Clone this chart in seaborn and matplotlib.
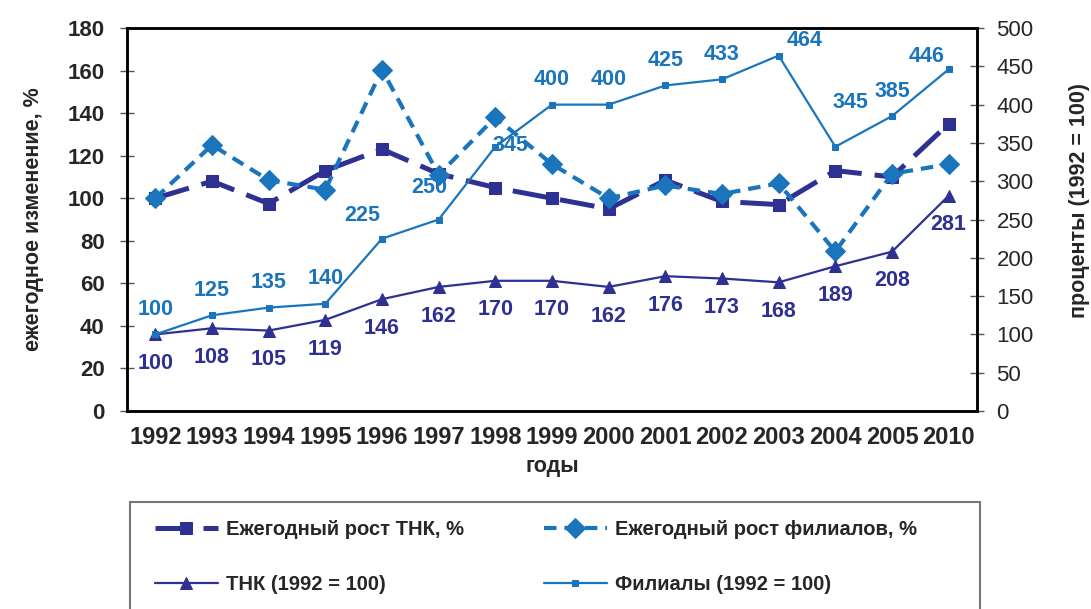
import numpy as np
import matplotlib
matplotlib.use("Agg")
import matplotlib.pyplot as plt
from matplotlib.patches import Rectangle
import seaborn as sns

years = ['1992', '1993', '1994', '1995', '1996', '1997', '1998', '1999',
         '2000', '2001', '2002', '2003', '2004', '2005', '2010']

# ежегодный рост, % (левая ось)
rost_tnk = [100, 108, 97.5, 113, 123, 111.5, 105, 100, 95, 108.5, 98.5, 97, 113, 110, 135]
rost_fil = [100, 125, 108.5, 104, 160.5, 111, 138, 116, 100, 106, 102, 107, 75, 111.5, 116]

# индексы, 1992 = 100 (правая ось)
tnk_idx = [100, 108, 105, 119, 146, 162, 170, 170, 162, 176, 173, 168, 189, 208, 281]
fil_idx = [100, 125, 135, 140, 225, 250, 345, 400, 400, 425, 433, 464, 345, 385, 446]

dark = '#2e3192'
light = '#1b75bc'

sns.set_style('white')
plt.rcParams['font.family'] = ['Liberation Sans', 'DejaVu Sans']

fig = plt.figure(figsize=(10.91, 6.09), dpi=100)
ax = fig.add_axes([0.1164, 0.3251, 0.7791, 0.6289])
ax2 = ax.twinx()

x = np.arange(len(years))

sns.lineplot(x=x, y=rost_tnk, ax=ax, color=dark, linewidth=3.6,
             linestyle=(0, (7, 2.6)), marker='s', markersize=9,
             markeredgecolor=dark, label='Ежегодный рост ТНК, %', legend=False)
sns.lineplot(x=x, y=rost_fil, ax=ax, color=light, linewidth=3.0,
             linestyle=(0, (3.0, 1.9)), marker='D', markersize=10,
             markeredgecolor=light, label='Ежегодный рост филиалов, %', legend=False)
sns.lineplot(x=x, y=tnk_idx, ax=ax2, color=dark, linewidth=1.6,
             marker='^', markersize=8, markeredgecolor=dark,
             label='ТНК (1992 = 100)', legend=False)
sns.lineplot(x=x, y=fil_idx, ax=ax2, color=light, linewidth=1.6,
             marker='s', markersize=4.5, markeredgecolor=light,
             label='Филиалы (1992 = 100)', legend=False)

# подписи значений
fil_off = {4: (-14, 17), 5: (-7, 23), 6: (11, 1), 11: (19, 11), 12: (11, 32), 14: (-16, 9)}
for i, v in enumerate(fil_idx):
    dx, dy = fil_off.get(i, (0, 18))
    ax2.annotate(str(v), (x[i], v), xytext=(dx, dy), textcoords='offset points',
                 ha='center', va='center', fontsize=15.5, fontweight='bold', color=light)
for i, v in enumerate(tnk_idx):
    ax2.annotate(str(v), (x[i], v), xytext=(0, -21), textcoords='offset points',
                 ha='center', va='center', fontsize=15.5, fontweight='bold', color=dark)

ax.set_xlim(-0.5, len(years) - 0.5)
ax.set_ylim(0, 180)
ax.set_yticks(range(0, 181, 20))
ax2.set_ylim(0, 500)
ax2.set_yticks(range(0, 501, 50))

ax.set_xticks(np.arange(-0.5, len(years), 1))
ax.set_xticklabels([])
ax.set_xticks(x, minor=True)
ax.set_xticklabels(years, minor=True, fontsize=17, fontweight='bold')
ax.tick_params(axis='x', which='minor', length=0, pad=11)
ax.tick_params(axis='x', which='major', direction='inout', length=10, width=1, color='#555555')
ax.tick_params(axis='y', direction='inout', length=10, width=1, color='#555555', pad=11,
               labelsize=16)
for t in ax.get_yticklabels():
    t.set_fontweight('bold')
ax2.tick_params(axis='y', direction='inout', length=10, width=1, color='#555555', pad=9,
                labelsize=16)

for a in (ax, ax2):
    for s in a.spines.values():
        s.set_color('black')
        s.set_linewidth(1.8)

ax.set_xlabel('годы', fontsize=15.5, fontweight='bold', labelpad=5)
ax.set_ylabel('ежегодное изменение, %', fontsize=15.5, fontweight='bold')
ax.yaxis.set_label_coords(-0.098, 0.5)
ax2.set_ylabel('проценты (1992 = 100)', fontsize=15.5, fontweight='bold')
ax2.yaxis.set_label_coords(1.108, 0.55)

h1, l1 = ax.get_legend_handles_labels()
h2, l2 = ax2.get_legend_handles_labels()
handles = [h1[0], h2[0], h1[1], h2[1]]
labels = [l1[0], l2[0], l1[1], l2[1]]
leg = fig.legend(handles, labels, ncol=2, loc='upper left',
                 bbox_to_anchor=(137 / 1091, 0.176),
                 prop={'size': 14.5, 'weight': 'bold'}, frameon=False,
                 handlelength=3.1, handletextpad=0.4, labelspacing=1.8,
                 borderpad=0.9, borderaxespad=0, columnspacing=4.0)

# рамка легенды (уходит за нижний край, как в оригинале)
fig.patches.append(Rectangle((130 / 1091, -0.03), 850 / 1091, 0.206,
                             transform=fig.transFigure, fill=False,
                             edgecolor='#777777', linewidth=1.5))

fig.savefig('out.png', dpi=100)
